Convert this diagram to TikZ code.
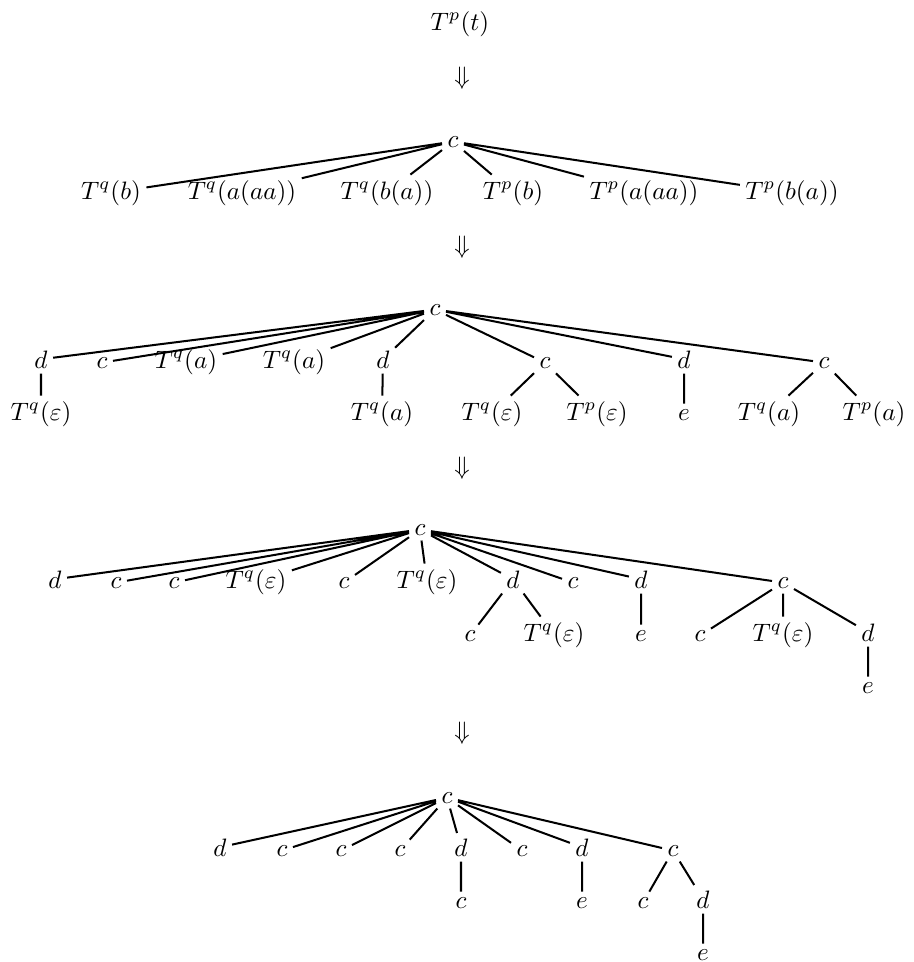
\documentclass[tikz,border=0pt]{standalone}
\begin{document}
\begin{tikzpicture}[x=0.397pt,y=-0.397pt]
\tikzset{lbl/.style={anchor=base, inner sep=2pt}, edge/.style={thick}}
\useasboundingbox (0,0) rectangle (913,962);

% start term
\node[lbl] (start) at (460,30) {$T^p(t)$};
\node (arr1) at (462,78) {$\Downarrow$};

% first step
\node[lbl] (ta) at (453,147) {$c$};
\node[lbl] (ta1) at (111,199) {$T^q(b)$};
\node[lbl] (ta2) at (242,199) {$T^q(a(aa))$};
\node[lbl] (ta3) at (387,199) {$T^q(b(a))$};
\node[lbl] (ta4) at (513,199) {$T^p(b)$};
\node[lbl] (ta5) at (644,199) {$T^p(a(aa))$};
\node[lbl] (ta6) at (792,199) {$T^p(b(a))$};
\draw[edge] (ta) -- (ta1) (ta) -- (ta2) (ta) -- (ta3)
  (ta) -- (ta4) (ta) -- (ta5) (ta) -- (ta6);
\node (arr2) at (462,247) {$\Downarrow$};

% second step
\node[lbl] (tb) at (435,315) {$c$};
\node[lbl] (tb1) at (41,368) {$d$};
\node[lbl] (tb2) at (102,368) {$c$};
\node[lbl] (tb3) at (186,368) {$T^q(a)$};
\node[lbl] (tb4) at (294,368) {$T^q(a)$};
\node[lbl] (tb5) at (383,368) {$d$};
\node[lbl] (tb6) at (545,368) {$c$};
\node[lbl] (tb7) at (684,368) {$d$};
\node[lbl] (tb8) at (824,368) {$c$};
\node[lbl] (tb1a) at (41,420) {$T^q(\varepsilon)$};
\node[lbl] (tb5a) at (382,420) {$T^q(a)$};
\node[lbl] (tb6a) at (492,420) {$T^q(\varepsilon)$};
\node[lbl] (tb6b) at (597,420) {$T^p(\varepsilon)$};
\node[lbl] (tb7a) at (684,420) {$e$};
\node[lbl] (tb8a) at (769,420) {$T^q(a)$};
\node[lbl] (tb8b) at (874,420) {$T^p(a)$};
\draw[edge] (tb) -- (tb1) (tb) -- (tb2) (tb) -- (tb3) (tb) -- (tb4)
  (tb) -- (tb5) (tb) -- (tb6) (tb) -- (tb7) (tb) -- (tb8);
\draw[edge] (tb1) -- (tb1a) (tb5) -- (tb5a) (tb6) -- (tb6a) (tb6) -- (tb6b)
  (tb7) -- (tb7a) (tb8) -- (tb8a) (tb8) -- (tb8b);
\node (arr3) at (462,468) {$\Downarrow$};

% third step
\node[lbl] (tc) at (420,535) {$c$};
\node[lbl] (tc1) at (55,588) {$d$};
\node[lbl] (tc2) at (116,588) {$c$};
\node[lbl] (tc3) at (174,588) {$c$};
\node[lbl] (tc4) at (256,588) {$T^q(\varepsilon)$};
\node[lbl] (tc5) at (344,588) {$c$};
\node[lbl] (tc6) at (427,588) {$T^q(\varepsilon)$};
\node[lbl] (tc7) at (513,588) {$d$};
\node[lbl] (tc8) at (573,588) {$c$};
\node[lbl] (tc9) at (641,588) {$d$};
\node[lbl] (tc10) at (783,588) {$c$};
\node[lbl] (tc7a) at (470,641) {$c$};
\node[lbl] (tc7b) at (554,641) {$T^q(\varepsilon)$};
\node[lbl] (tc9a) at (641,641) {$e$};
\node[lbl] (tc10a) at (700,641) {$c$};
\node[lbl] (tc10b) at (783,641) {$T^q(\varepsilon)$};
\node[lbl] (tc10c) at (868,641) {$d$};
\node[lbl] (tc10ca) at (868,693) {$e$};
\draw[edge] (tc) -- (tc1) (tc) -- (tc2) (tc) -- (tc3) (tc) -- (tc4)
  (tc) -- (tc5) (tc) -- (tc6) (tc) -- (tc7) (tc) -- (tc8)
  (tc) -- (tc9) (tc) -- (tc10);
\draw[edge] (tc7) -- (tc7a) (tc7) -- (tc7b) (tc9) -- (tc9a)
  (tc10) -- (tc10a) (tc10) -- (tc10b) (tc10) -- (tc10c) (tc10c) -- (tc10ca);
\node (arr4) at (462,733) {$\Downarrow$};

% result
\node[lbl] (td) at (447,803) {$c$};
\node[lbl] (td1) at (220,856) {$d$};
\node[lbl] (td2) at (282,856) {$c$};
\node[lbl] (td3) at (341,856) {$c$};
\node[lbl] (td4) at (400,856) {$c$};
\node[lbl] (td5) at (461,856) {$d$};
\node[lbl] (td6) at (522,856) {$c$};
\node[lbl] (td7) at (582,856) {$d$};
\node[lbl] (td8) at (673,856) {$c$};
\node[lbl] (td5a) at (461,908) {$c$};
\node[lbl] (td7a) at (582,908) {$e$};
\node[lbl] (td8a) at (643,908) {$c$};
\node[lbl] (td8b) at (703,908) {$d$};
\node[lbl] (td8ba) at (703,960) {$e$};
\draw[edge] (td) -- (td1) (td) -- (td2) (td) -- (td3) (td) -- (td4)
  (td) -- (td5) (td) -- (td6) (td) -- (td7) (td) -- (td8);
\draw[edge] (td5) -- (td5a) (td7) -- (td7a) (td8) -- (td8a) (td8) -- (td8b)
  (td8b) -- (td8ba);
\end{tikzpicture}
\end{document}
